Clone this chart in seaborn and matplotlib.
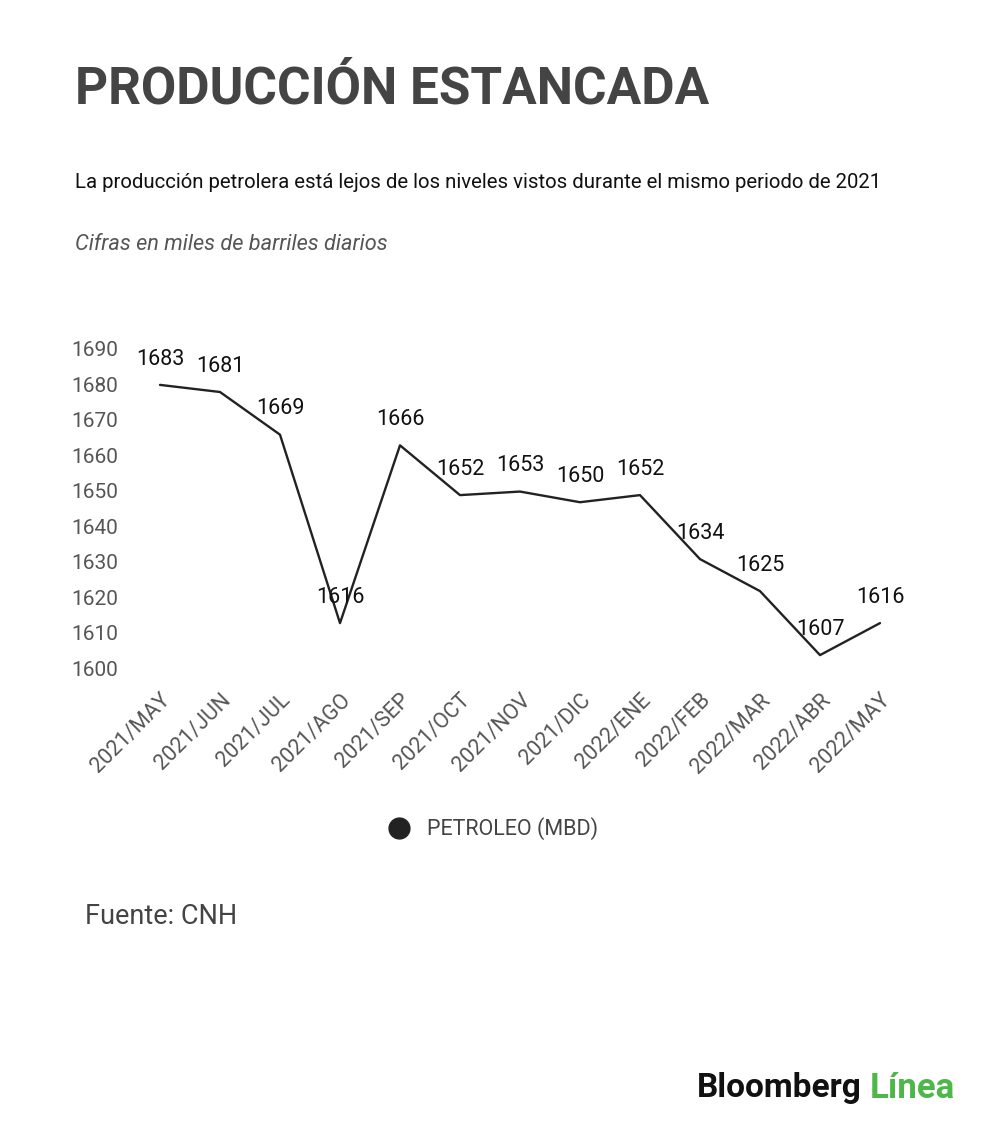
import matplotlib
matplotlib.use("Agg")
import matplotlib.pyplot as plt
from matplotlib.lines import Line2D
import seaborn as sns
import pandas as pd

# data
months = ["2021/MAY", "2021/JUN", "2021/JUL", "2021/AGO", "2021/SEP", "2021/OCT",
          "2021/NOV", "2021/DIC", "2022/ENE", "2022/FEB", "2022/MAR", "2022/ABR",
          "2022/MAY"]
petroleo = [1683, 1681, 1669, 1616, 1666, 1652, 1653, 1650, 1652, 1634, 1625, 1607, 1616]
y_ticks = [1600, 1610, 1620, 1630, 1640, 1650, 1660, 1670, 1680, 1690]

df = pd.DataFrame({"mes": range(len(months)), "valor": petroleo})

sns.set_style("white")
plt.rcParams["font.family"] = ["Roboto", "DejaVu Sans"]

W, H = 1000, 1131
fig = plt.figure(figsize=(W / 100, H / 100), dpi=100)
fig.patch.set_facecolor("white")

# axes placed so 1600 sits at y=680px and 1690 at y=360px
ax = fig.add_axes([160 / W, 1 - 680 / H, 720 / W, 320 / H])
sns.lineplot(data=df, x="mes", y="valor", color="#222222", linewidth=1.7, ax=ax,
             clip_on=False)
ax.set_xlim(0, len(months) - 1)
ax.set_ylim(1600, 1690)
ax.set_xlabel("")
ax.set_ylabel("")
sns.despine(ax=ax, left=True, bottom=True)
ax.grid(False)

ax.set_yticks(y_ticks)
ax.set_yticklabels([str(v) for v in y_ticks])
ax.tick_params(axis="y", length=0, pad=30, labelsize=15, labelcolor="#555555")
for lab in ax.get_yticklabels():
    lab.set_va("bottom")

ax.set_xticks(range(len(months)))
ax.set_xticklabels(months, rotation=45, ha="right", va="top", rotation_mode="anchor")
ax.tick_params(axis="x", length=0, pad=7, labelsize=15.5, labelcolor="#555555")
for lab in ax.get_xticklabels():
    lab.set_x(lab.get_position()[0])

for i, v in enumerate(petroleo):
    ax.annotate(str(v), (i, v), xytext=(0, 18.5), textcoords="offset points",
                ha="center", va="center", fontsize=15.5, color="#111111",
                annotation_clip=False)

# legend
handle = Line2D([], [], marker="o", linestyle="", color="#222222", markersize=15)
fig.legend([handle], ["PETROLEO (MBD)"], loc="center",
           bbox_to_anchor=(488 / W, 1 - 829 / H), frameon=False,
           fontsize=15.5, labelcolor="#444444", handletextpad=0.3)

# titles and notes
fig.text(75 / W, 1 - 90 / H, "PRODUCCIÓN ESTANCADA", fontsize=37, fontweight="bold",
         color="#444444", ha="left", va="center")
fig.text(75 / W, 1 - 182 / H,
         "La producción petrolera está lejos de los niveles vistos durante el mismo periodo de 2021",
         fontsize=14.7, color="#111111", ha="left", va="center")
fig.text(75 / W, 1 - 245 / H, "Cifras en miles de barriles diarios", fontsize=15.7,
         style="italic", color="#555555", ha="left", va="center")
fig.text(85 / W, 1 - 917 / H, "Fuente: CNH", fontsize=19.5, color="#444444",
         ha="left", va="center")

fig.text(862 / W, 1 - 1088 / H, "Bloomberg", fontsize=24, fontweight="bold",
         color="#111111", ha="right", va="center")
fig.text(870 / W, 1 - 1088 / H, "Línea", fontsize=25, fontweight="bold",
         color="#4db848", ha="left", va="center")

fig.savefig("out.png", dpi=100, facecolor="white")
